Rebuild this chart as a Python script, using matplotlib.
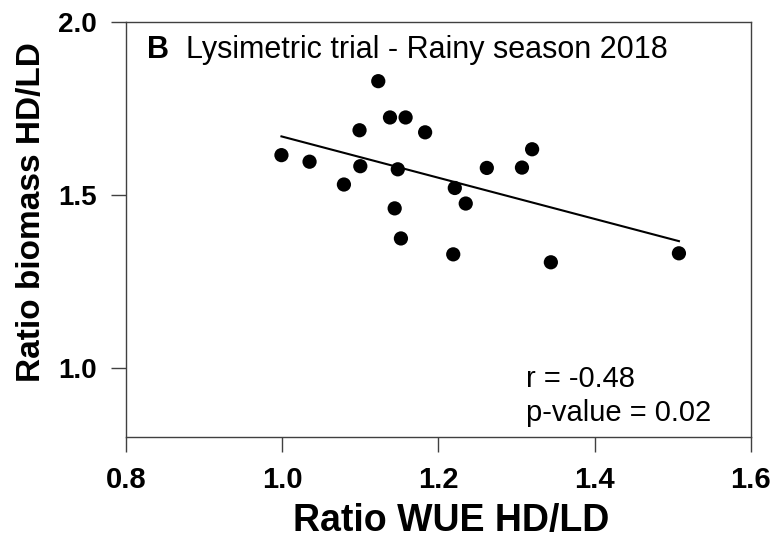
#!/usr/bin/env python3
# -*- coding: utf-8 -*-
"""Ratio biomass vs ratio WUE (HD/LD), lysimetric trial, rainy season 2018."""

import matplotlib
matplotlib.use("Agg")
import matplotlib.pyplot as plt
import numpy as np

plt.rcParams["font.family"] = ["Liberation Sans", "DejaVu Sans"]

# values
wue_ratio = [0.999, 1.035, 1.079, 1.099, 1.100, 1.123, 1.138, 1.158, 1.183, 1.144,
             1.148, 1.152, 1.219, 1.221, 1.235, 1.262, 1.307, 1.320, 1.344, 1.508]
biomass_ratio = [1.615, 1.596, 1.530, 1.687, 1.583, 1.829, 1.724, 1.724, 1.681, 1.461,
                 1.574, 1.374, 1.328, 1.520, 1.475, 1.578, 1.579, 1.632, 1.305, 1.331]
x_ticks = [0.8, 1.0, 1.2, 1.4, 1.6]
y_ticks = [1.0, 1.5, 2.0]
panel_letter = "B"
panel_title = "Lysimetric trial - Rainy season 2018"
r_text = "r = -0.48"
p_text = "p-value = 0.02"


def main() -> None:
    x = np.array(wue_ratio)
    y = np.array(biomass_ratio)

    fig = plt.figure(figsize=(7.78, 5.38), dpi=100)
    ax = fig.add_axes([0.162, 0.188, 0.803, 0.771])

    slope, intercept = np.polyfit(x, y, 1)
    xf = np.array([x.min(), x.max()])
    ax.plot(xf, slope * xf + intercept, color="black", lw=1.5, zorder=2)
    ax.scatter(x, y, s=105, color="black", edgecolors="none", zorder=3)

    ax.set_xlim(0.8, 1.6)
    ax.set_ylim(0.8, 2.0)
    ax.set_xticks(x_ticks)
    ax.set_yticks(y_ticks)
    ax.set_xticklabels([f"{v:.1f}" for v in x_ticks], fontsize=21, fontweight="bold")
    ax.set_yticklabels([f"{v:.1f}" for v in y_ticks], fontsize=20, fontweight="bold")
    ax.tick_params(direction="out", length=11, width=1.0, color="#404040", pad=10)
    for sp in ax.spines.values():
        sp.set_linewidth(1.0)
        sp.set_color("#404040")

    ax.set_xlabel("Ratio WUE HD/LD", fontsize=27, fontweight="bold")
    ax.set_ylabel("Ratio biomass HD/LD", fontsize=24, fontweight="bold")
    ax.xaxis.set_label_coords(0.52, -0.16, transform=ax.transAxes)
    ax.yaxis.set_label_coords(-0.126, 0.542, transform=ax.transAxes)

    ax.text(0.034, 0.968, panel_letter, transform=ax.transAxes, fontsize=22,
            fontweight="bold", va="top", ha="left")
    ax.text(0.096, 0.968, panel_title, transform=ax.transAxes, fontsize=22,
            va="top", ha="left")
    ax.text(0.64, 0.14, r_text, transform=ax.transAxes, fontsize=21, va="center", ha="left")
    ax.text(0.64, 0.058, p_text, transform=ax.transAxes, fontsize=21, va="center", ha="left")

    fig.savefig("out.png", dpi=100)
    plt.close(fig)


if __name__ == "__main__":
    main()
